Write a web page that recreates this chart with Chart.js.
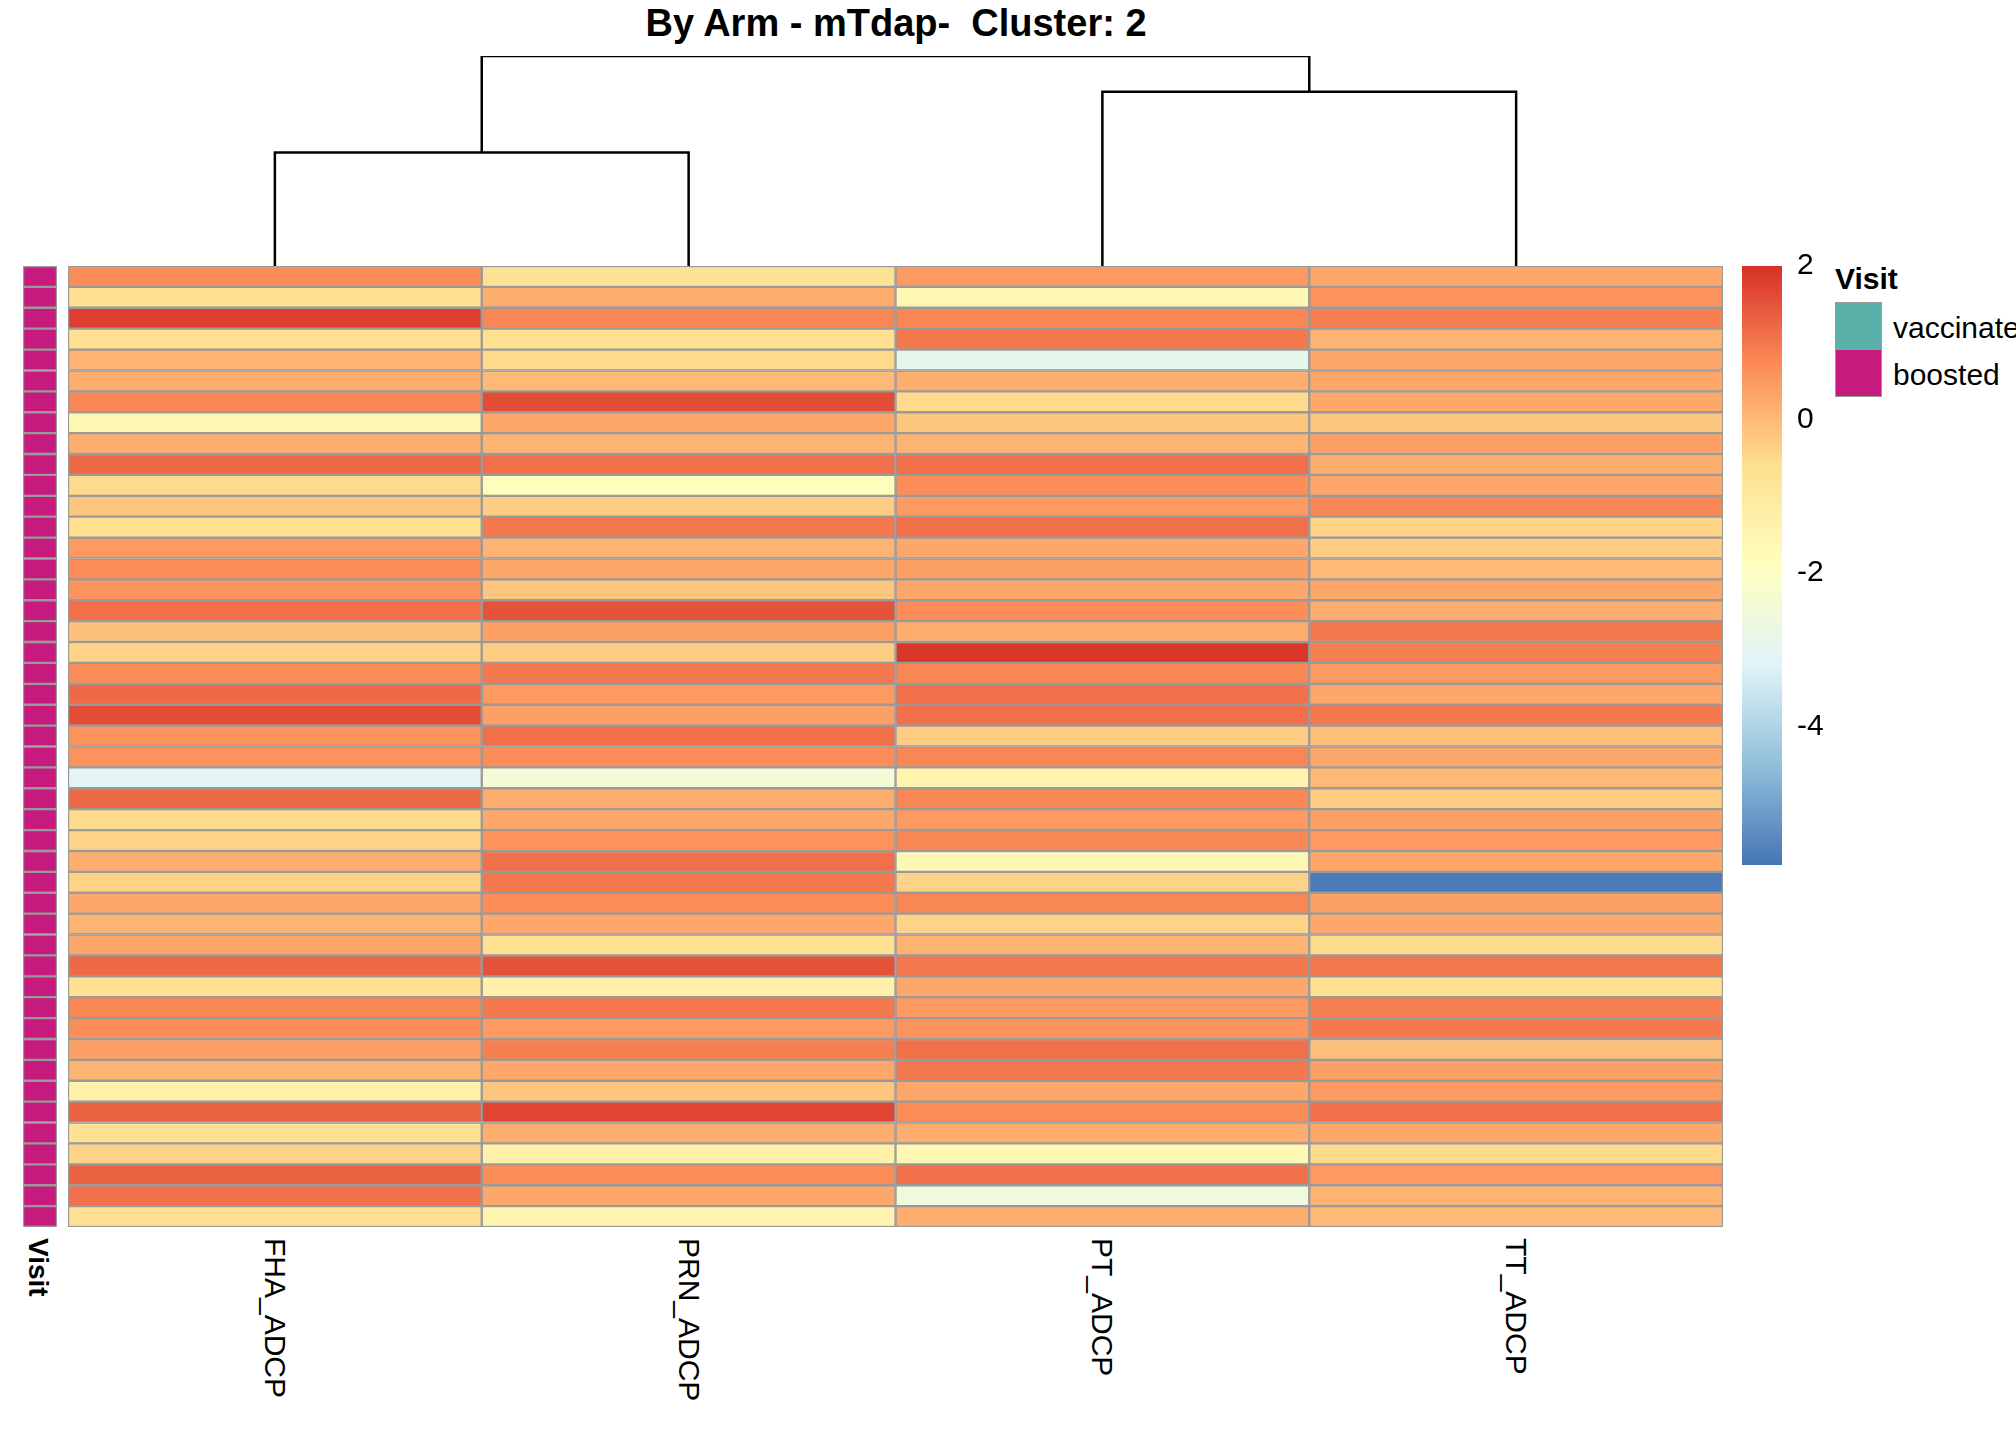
<!DOCTYPE html>
<html lang="en">
<head>
<meta charset="UTF-8">
<title>By Arm - mTdap- Cluster: 2</title>
<script src="https://cdn.jsdelivr.net/npm/chart.js"></script>
<style>
  body { margin: 0; background: #fff; width: 2016px; height: 1440px; overflow: hidden; position: relative; font-family: "Liberation Sans", Arial, sans-serif; }
  .abs { position: absolute; }
  #title { left: 0; width: 1792px; top: 2px; text-align: center; font-size: 38px; font-weight: bold; white-space: pre; }
  .collab { writing-mode: vertical-rl; font-size: 30px; top: 1238px; }
  #visitLab { writing-mode: vertical-rl; font-size: 28px; font-weight: bold; left: 22px; top: 1238px; }
  #legTitle { left: 1835px; top: 262px; font-size: 30px; font-weight: bold; }
  .legBox { left: 1835px; width: 45px; height: 46px; border: 1px solid #999; }
  .legTxt { left: 1893px; font-size: 30px; white-space: nowrap; }
</style>
</head>
<body>
<div id="title" class="abs">By Arm - mTdap-  Cluster: 2</div>
<div class="abs" style="left:68px;top:50px;width:1655px;height:216px;"><canvas id="dendro"></canvas></div>
<div class="abs" style="left:68px;top:266px;width:1655px;height:961px;"><canvas id="heat"></canvas></div>
<div class="abs" style="left:23px;top:266px;width:34px;height:961px;"><canvas id="visit"></canvas></div>
<div class="abs" style="left:1742px;top:246px;width:90px;height:639px;"><canvas id="cbar"></canvas></div>
<div id="visitLab" class="abs">Visit</div>
<div id="legTitle" class="abs">Visit</div>
<div class="abs legBox" style="top:302px;background:#5BB1A7;"></div>
<div class="abs legBox" style="top:349px;background:#C71A7E;"></div>
<div class="abs legTxt" style="top:311px;">vaccinated</div>
<div class="abs legTxt" style="top:358px;">boosted</div>
<div id="labels"></div>
<script>
const columns = ['FHA_ADCP', 'PRN_ADCP', 'PT_ADCP', 'TT_ADCP'];
const fha = [0.7,-0.6,1.8,-0.6,0.1,0.2,0.8,-1.6,0.2,1.2,-0.5,-0.2,-0.6,0.5,0.7,0.6,1.1,-0.1,-0.4,0.7,1.2,1.6,0.6,0.6,-3.1,1.2,-0.5,-0.4,0.2,-0.4,0.3,0.1,0.3,1.2,-0.6,0.8,0.7,0.4,0.1,-1.3,1.3,-0.7,-0.4,1.3,1.1,-0.6];
const prn = [-0.7,0.2,0.8,-0.6,-0.5,0.0,1.6,0.3,0.1,1.1,-1.8,-0.3,1.0,0.1,0.3,-0.2,1.5,0.4,-0.3,1.0,0.5,0.4,1.1,0.7,-2.4,0.2,0.3,0.6,1.1,1.0,0.7,0.3,-0.6,1.5,-1.3,1.0,0.5,0.9,0.3,-0.2,1.7,0.2,-1.3,0.7,0.3,-1.5];
const pt = [0.5,-1.6,0.8,1.0,-2.9,0.2,-0.5,-0.2,0.1,1.1,0.7,0.5,1.1,0.3,0.4,0.3,0.7,0.2,1.9,0.8,1.1,1.1,-0.3,0.8,-1.4,0.8,0.5,0.8,-1.6,-0.4,0.8,-0.4,0.1,1.0,0.3,0.5,0.6,1.1,1.0,0.3,0.7,0.2,-1.6,1.1,-2.6,0.2];
const tt = [0.3,0.6,0.9,0.1,0.3,0.3,0.3,-0.2,0.4,0.2,0.3,0.8,-0.4,-0.3,0.0,0.3,0.2,1.0,0.9,0.5,0.3,1.0,-0.1,0.3,0.0,-0.3,0.4,0.5,0.3,-5.7,0.4,0.3,-0.5,1.0,-0.6,0.9,1.0,-0.1,0.4,0.5,1.1,0.3,-0.5,0.5,0.1,0.0];
const visitGroup = new Array(46).fill('boosted');
const colorTicks = [2, 0, -2, -4];
// dendrogram merges: [left, right, height]; leaves 0..3, merges 4..
const merges = [[2, 3, 0.83], [0, 1, 0.54], [4, 5, 1.0]];

const valueMin = -5.8, valueMax = 2.0;
const palette = ['#4575B4', '#91BFDB', '#E0F3F8', '#FFFFBF', '#FEE090', '#FC8D59', '#D73027'];
function hex(c) { return [1, 3, 5].map(i => parseInt(c.substr(i, 2), 16)); }
function colorFor(v) {
  let t = (v - valueMin) / (valueMax - valueMin) * (palette.length - 1);
  t = Math.max(0, Math.min(palette.length - 1, t));
  const i = Math.min(Math.floor(t), palette.length - 2), f = t - i;
  const a = hex(palette[i]), b = hex(palette[i + 1]);
  return 'rgb(' + a.map((x, k) => Math.round(x + (b[k] - x) * f)).join(',') + ')';
}

const matrix = [fha, prn, pt, tt];
const nRows = fha.length;

// heatmap: one stacked dataset per row
const heatSets = [];
for (let r = 0; r < nRows; r++) {
  heatSets.push({
    data: columns.map(() => 1),
    backgroundColor: matrix.map(col => colorFor(col[r])),
    borderColor: '#9a9a9a', borderWidth: 1.5, borderSkipped: false,
    barPercentage: 1, categoryPercentage: 1
  });
}
const noAxes = { responsive: true, maintainAspectRatio: false, animation: false,
  plugins: { legend: { display: false }, tooltip: { enabled: false } }, layout: { padding: 0 } };

new Chart(document.getElementById('heat'), {
  type: 'bar',
  data: { labels: columns, datasets: heatSets },
  options: Object.assign({}, noAxes, {
    scales: {
      x: { stacked: true, display: false },
      y: { stacked: true, display: false, reverse: true, min: 0, max: nRows }
    }
  })
});

new Chart(document.getElementById('visit'), {
  type: 'bar',
  data: { labels: ['Visit'], datasets: visitGroup.map(g => ({
    data: [1], backgroundColor: g === 'boosted' ? '#C71A7E' : '#5BB1A7',
    borderColor: '#9a9a9a', borderWidth: 1.5, borderSkipped: false,
    barPercentage: 1, categoryPercentage: 1 })) },
  options: Object.assign({}, noAxes, {
    scales: { x: { stacked: true, display: false },
              y: { stacked: true, display: false, reverse: true, min: 0, max: nRows } }
  })
});

// dendrogram segments from merges
const nodePos = columns.map((c, i) => ({ x: i + 0.5, h: 0 }));
const dendroSets = merges.map(([a, b, h]) => {
  const A = nodePos[a], B = nodePos[b];
  nodePos.push({ x: (A.x + B.x) / 2, h: h });
  return { data: [{ x: A.x, y: A.h }, { x: A.x, y: h }, { x: B.x, y: h }, { x: B.x, y: B.h }],
    showLine: true, borderColor: '#000', borderWidth: 2.5, pointRadius: 0, fill: false };
});
new Chart(document.getElementById('dendro'), {
  type: 'scatter',
  data: { datasets: dendroSets },
  options: Object.assign({}, noAxes, {
    scales: { x: { display: false, min: 0, max: columns.length },
              y: { display: false, min: 0, max: 1.0 } },
    layout: { padding: { top: 6 } }
  })
});

// colour bar, tick labels drawn from the scale
const tickLabels = {
  id: 'tickLabels',
  afterDraw(chart) {
    const c = chart.ctx, ys = chart.scales.y, area = chart.chartArea;
    c.save();
    c.fillStyle = '#000';
    c.font = '30px "Liberation Sans", Arial, sans-serif';
    c.textBaseline = 'middle';
    colorTicks.forEach(v => c.fillText(String(v), area.right + 15, ys.getPixelForValue(v)));
    c.restore();
  }
};
new Chart(document.getElementById('cbar'), {
  type: 'bar',
  data: { labels: [''], datasets: [{
    data: [[valueMin, valueMax]], barPercentage: 1, categoryPercentage: 1, borderWidth: 0,
    backgroundColor: ctx => {
      const area = ctx.chart.chartArea;
      if (!area) return '#ccc';
      const ys = ctx.chart.scales.y;
      const g = ctx.chart.ctx.createLinearGradient(0, ys.getPixelForValue(valueMin), 0, ys.getPixelForValue(valueMax));
      palette.forEach((c, i) => g.addColorStop(i / (palette.length - 1), c));
      return g;
    }
  }] },
  plugins: [tickLabels],
  options: Object.assign({}, noAxes, {
    layout: { padding: { top: 20, bottom: 20, right: 50 } },
    scales: {
      x: { display: false },
      y: { display: false, min: valueMin, max: valueMax }
    }
  })
});

// column labels
const lab = document.getElementById('labels');
columns.forEach((c, i) => {
  const d = document.createElement('div');
  d.className = 'abs collab';
  d.textContent = c;
  d.style.left = (68 + (i + 0.5) * 1655 / columns.length - 17) + 'px';
  lab.appendChild(d);
});
</script>
</body>
</html>
